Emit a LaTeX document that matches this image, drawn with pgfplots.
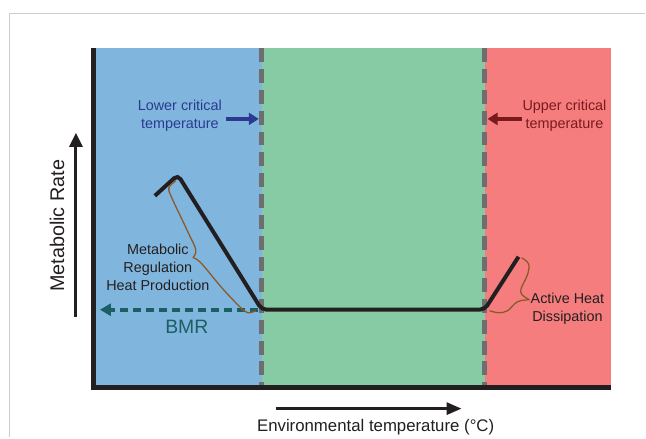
\documentclass[border=0pt]{standalone}
\usepackage{fontspec}
\setmainfont{Liberation Sans}
\usepackage{pgfplots}
\pgfplotsset{compat=1.18}
\usetikzlibrary{arrows.meta}

\definecolor{zblue}{HTML}{80B6DE}
\definecolor{zgreen}{HTML}{86CBA4}
\definecolor{zred}{HTML}{F57D7D}
\definecolor{dashgray}{HTML}{6D6E70}
\definecolor{ink}{HTML}{231F20}
\definecolor{lowblue}{HTML}{2B3990}
\definecolor{updark}{HTML}{7A1A1F}
\definecolor{bmrteal}{HTML}{1B5E63}
\definecolor{brace}{HTML}{8B5A2B}
\definecolor{frame}{HTML}{CCCCCC}

\begin{document}
\begin{tikzpicture}
\begin{axis}[
    scale only axis,
    width=646bp, height=437bp,
    xmin=0, xmax=646, ymin=0, ymax=437,
    y dir=reverse,
    axis lines=none, ticks=none,
    clip=false,
    font=\fontsize{14.4bp}{18bp}\selectfont,
]
% background and outer frame
\addplot[fill=white, draw=none] coordinates {(0,0)(646,0)(646,437)(0,437)} -- cycle;
\addplot[frame, line width=1.2] coordinates {(9.5,437)(9.5,13.5)(646,13.5)};

% zones
\addplot[fill=zblue, draw=none] coordinates {(93,48)(262,48)(262,388)(93,388)} -- cycle;
\addplot[fill=zgreen, draw=none] coordinates {(262,48)(485,48)(485,388)(262,388)} -- cycle;
\addplot[fill=zred, draw=none] coordinates {(485,48)(612,48)(612,388)(485,388)} -- cycle;

% critical temperature boundaries
\addplot[dashgray, line width=5, dash pattern=on 14 off 7] coordinates {(262,48)(262,388)};
\addplot[dashgray, line width=5, dash pattern=on 14 off 7] coordinates {(485,48)(485,388)};

% frame of the plot
\addplot[ink, line width=5] coordinates {(93.5,48)(93.5,390)};
\addplot[ink, line width=5] coordinates {(91,388)(612,388)};

% BMR arrow
\addplot[bmrteal, line width=3.6, dash pattern=on 8 off 5, -{Triangle[length=11,width=12]}]
    coordinates {(258,310)(100,310)};

% metabolic rate curve
\addplot[ink, line width=4, rounded corners=5] coordinates {(155,196)(178,175)(262,310)(485,310)(519,257)};

% braces
\addplot[brace, line width=1.3, smooth, tension=0.6] coordinates {(176,181)(169,188)(172,198)(188,232)(196,250)(193,258)};
\addplot[brace, line width=1.3, smooth, tension=0.6] coordinates {(193,258)(201,263)(222,288)(240,307)(248,313)(256,311)};
\addplot[brace, line width=1.3, smooth, tension=0.6] coordinates {(522,258)(529,264)(528,275)(521,292)(530,300)};
\addplot[brace, line width=1.3, smooth, tension=0.6] coordinates {(530,300)(518,302)(508,311)(499,313)(490,311)};

% critical temperature arrows
\addplot[lowblue, line width=3.5, -{Triangle[length=10,width=12]}] coordinates {(226,119)(259,119)};
\addplot[updark, line width=3.5, -{Triangle[length=10,width=12]}] coordinates {(522,119)(488,119)};

% axis arrows
\addplot[ink, line width=3, -{Triangle[length=14,width=13]}] coordinates {(76,317)(76,133)};
\addplot[ink, line width=3, -{Triangle[length=15,width=12]}] coordinates {(276,409)(462,409)};

% texts
\node[lowblue, align=center] at (axis cs:180,116) {Lower critical\\temperature};
\node[updark, align=center] at (axis cs:565,116) {Upper critical\\temperature};
\node[ink, align=center] at (axis cs:158,268) {Metabolic\\Regulation\\Heat Production};
\node[ink, align=center] at (axis cs:568,309) {Active Heat\\Dissipation};
\node[bmrteal, font=\fontsize{19.4bp}{22bp}\selectfont] at (axis cs:187,327) {BMR};
\node[ink, rotate=90, font=\fontsize{19.8bp}{22bp}\selectfont] at (axis cs:57,226) {Metabolic Rate};
\node[ink, font=\fontsize{16.8bp}{19bp}\selectfont] at (axis cs:376,428) {Environmental temperature (°C)};
\end{axis}
\end{tikzpicture}
\end{document}
